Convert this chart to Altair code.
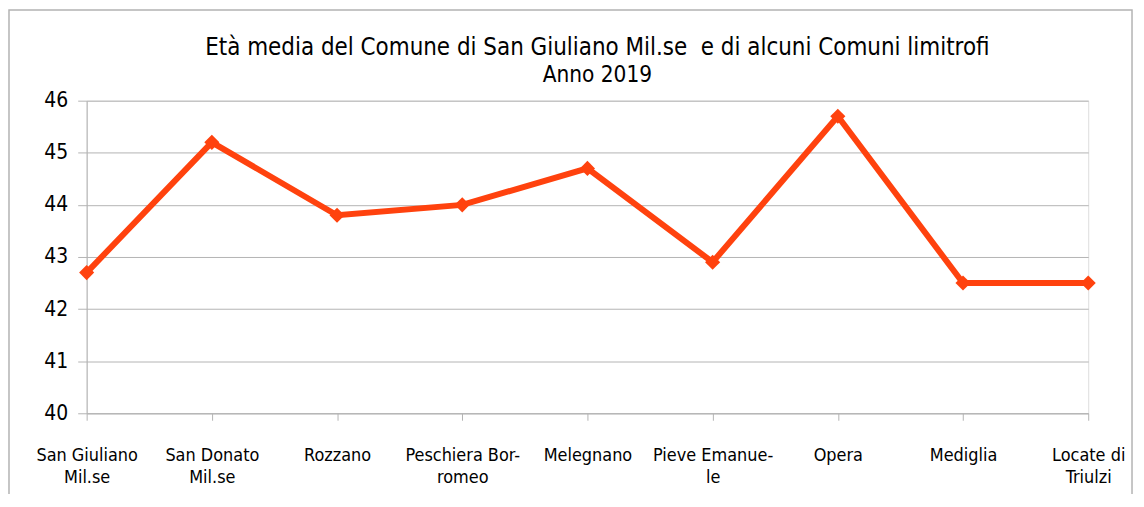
import altair as alt
import pandas as pd

comuni = [
    "San Giuliano\nMil.se",
    "San Donato\nMil.se",
    "Rozzano",
    "Peschiera Bor-\nromeo",
    "Melegnano",
    "Pieve Emanue-\nle",
    "Opera",
    "Mediglia",
    "Locate di\nTriulzi",
]
eta_media = [42.7, 45.2, 43.8, 44.0, 44.7, 42.9, 45.7, 42.5, 42.5]
y_ticks = [40, 41, 42, 43, 44, 45, 46]
titolo = "Età media del Comune di San Giuliano Mil.se\u00a0 e di alcuni Comuni limitrofi"
sottotitolo = "Anno 2019"

df = pd.DataFrame({"comune": comuni, "eta": eta_media})

FONT = "DejaVu Sans Condensed"
COLOR = "#ff420e"
GRID = "#b3b3b3"

x_enc = alt.X(
    "comune:N",
    sort=comuni,
    scale=alt.Scale(type="point", padding=0),
    axis=alt.Axis(
        title=None,
        labelAngle=0,
        labelExpr="split(datum.label, '\\n')",
        labelFont=FONT,
        labelFontSize=18,
        labelColor="#000000",
        labelLineHeight=23,
        labelBaseline="top",
        labelPadding=26,
        tickSize=7,
        tickColor=GRID,
        domainColor=GRID,
        grid=False,
    ),
)
y_enc = alt.Y(
    "eta:Q",
    scale=alt.Scale(domain=[40, 46], nice=False, zero=False),
    axis=alt.Axis(
        title=None,
        values=y_ticks,
        format="d",
        labelFont=FONT,
        labelFontSize=21,
        labelColor="#000000",
        labelPadding=10,
        tickSize=9,
        tickColor=GRID,
        domainColor=GRID,
        gridColor=GRID,
        gridWidth=1,
    ),
)

base = alt.Chart(df)
line = base.mark_line(color=COLOR, strokeWidth=6).encode(x=x_enc, y=y_enc)
points = base.mark_point(
    shape="diamond", filled=True, size=230, color=COLOR, opacity=1
).encode(x=x_enc, y=y_enc)

frame = alt.Chart(pd.DataFrame({"f": [0]})).mark_rect(
    fill=None, stroke=GRID, strokeWidth=1.5
).encode(
    x=alt.value(-78),
    x2=alt.value(1050),
    y=alt.value(-91),
    y2=alt.value(460),
)

chart = (
    alt.layer(frame, line, points)
    .properties(
        width=1006,
        height=314,
        title=alt.TitleParams(
            text=titolo,
            subtitle=sottotitolo,
            font=FONT,
            fontSize=24,
            fontWeight="normal",
            color="#000000",
            subtitleFont=FONT,
            subtitleFontSize=22.5,
            subtitleColor="#000000",
            subtitlePadding=5,
            anchor="middle",
            frame="group",
            dx=10,
            offset=-78,
        ),
        autosize=alt.AutoSizeParams(type="none"),
        padding={"left": 79, "top": 92, "right": 48, "bottom": 80},
    )
    .configure_view(stroke=GRID, strokeWidth=1)
    .configure(background="white")
)

chart.save("out.html", embed_options={"renderer": "svg", "actions": False})
